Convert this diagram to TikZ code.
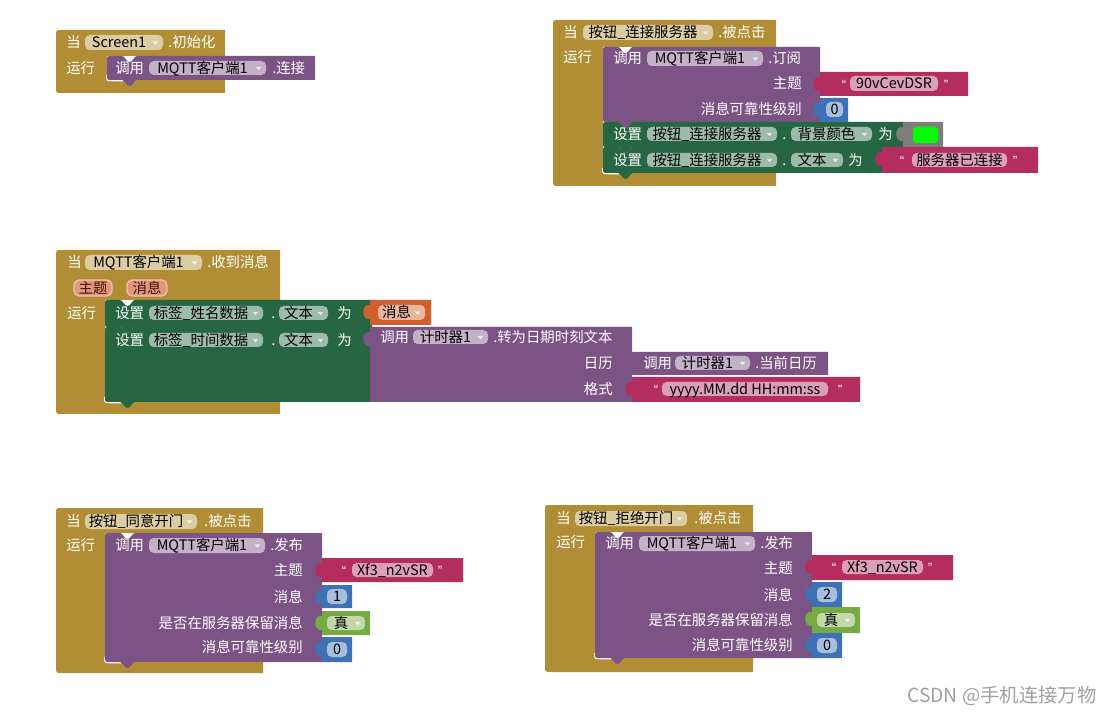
\documentclass[tikz,border=0pt]{standalone}
\usepackage{fontspec}
\newfontfamily\cjk{Noto Sans CJK SC}
\newfontfamily\lat{Liberation Sans}
\usetikzlibrary{calc}
\definecolor{gold}{HTML}{B18E35}
\definecolor{purp}{HTML}{7C5385}
\definecolor{sgreen}{HTML}{266643}
\definecolor{tmag}{HTML}{B32D5E}
\definecolor{mblue}{HTML}{3F71B5}
\definecolor{lgreen}{HTML}{77AB41}
\definecolor{vorange}{HTML}{D05F2D}
\definecolor{cgray}{HTML}{7D7D7D}
\definecolor{parf}{HTML}{E5957C}
\definecolor{parb}{HTML}{F3C2AE}
\definecolor{partxt}{HTML}{3A140A}
\definecolor{wmark}{HTML}{A0A0A0}
\definecolor{lime}{HTML}{00FF00}
\tikzset{
  wt/.style={text=white},
  ftxt/.style={text=black},
  fld/.style={fill=white, fill opacity=.55, rounded corners=3.5pt},
  qt/.style={text=white, font=\lat\fontsize{10}{11}\selectfont},
  pill/.style={fill=parf, draw=parb, line width=1pt, rounded corners=4pt},
}
\newcount\ndc
\newcommand\nxt{\global\advance\ndc by 1\relax}
\newcommand\wtxt[3]{\nxt\node[wt,anchor=west] (n\the\ndc) at (#1,#2) {#3};}
\newcommand\rtxt[3]{\nxt\node[wt,anchor=east] (n\the\ndc) at (#1,#2) {#3};}
\newcommand\qtxt[3]{\nxt\node[qt] (n\the\ndc) at (#1,#2) {#3};}
\newcommand\pfield[5]{\fill[fld] (#1,#2) rectangle (#3,#4);\nxt\node[ftxt] (n\the\ndc) at ({(#1+#3)/2},{(#2+#4)/2}) {#5};}
\newcommand\dfield[5]{\fill[fld] (#1,#2) rectangle (#3,#4);\nxt\node[ftxt] (n\the\ndc) at ({(#1+#3)/2-5},{(#2+#4)/2}) {#5};\fill[white,opacity=.7] ({#3-10.5},{(#2+#4)/2-1.2}) -- ++(6,0) -- ++(-3,3.4) -- cycle;}
\newcommand\ppill[5]{\draw[pill] (#1,#2) rectangle (#3,#4);\nxt\node[text=partxt] (n\the\ndc) at ({(#1+#3)/2},{(#2+#4)/2}) {#5};}
\newcommand\stmt[5]{\fill[#1] ({#2+5},#3) -- ({#2+15},#3) .. controls ({#2+18},#3) and ({#2+19},{#3+6}) .. ({#2+22.5},{#3+6}) .. controls ({#2+26},{#3+6}) and ({#2+27},#3) .. ({#2+30},#3) -- (#4,#3) -- (#4,#5) -- ({#2+30},#5) .. controls ({#2+27},#5) and ({#2+26},{#5+6}) .. ({#2+22.5},{#5+6}) .. controls ({#2+19},{#5+6}) and ({#2+18},#5) .. ({#2+15},#5) -- ({#2+5},#5) .. controls (#2,#5) .. (#2,{#5-5}) -- (#2,{#3+5}) .. controls (#2,#3) .. ({#2+5},#3) -- cycle;}
\newcommand\valblk[5]{\fill[#1] (#2,#3) -- (#4,#3) -- (#4,#5) -- (#2,#5) -- (#2,{#3+19}) .. controls ({#2-9},{#3+21}) and ({#2-9},{#3+3}) .. (#2,{#3+5}) -- cycle;}
\newcommand\evblk[7]{\fill[gold] ({#1+6},#2) -- (#3,#2) -- (#3,#4) -- (#5,#4) -- (#5,#6) -- (#3,#6) -- (#3,#7) -- ({#1+6},#7) .. controls (#1,#7) .. (#1,{#7-6}) -- (#1,{#2+6}) .. controls (#1,#2) .. ({#1+6},#2) -- cycle;
\draw[white, line width=1pt] ({#5-0.3},{#6-5}) .. controls ({#5-0.3},{#6+0.6}) .. ({#5+5},{#6+0.6}) -- ({#5+16},{#6+0.6});}
\begin{document}
\begin{tikzpicture}[x=0.75pt,y=-0.75pt,
  every node/.style={inner sep=0pt, font=\cjk\fontsize{10.8}{13}\selectfont, text height=9.3pt, text depth=1.3pt}]
\useasboundingbox (0,0) rectangle (1114,716);
\fill[white] (0,0) rectangle (1114,716);

% ---------- Block 1: Screen1 init ----------
\evblk{56}{30}{225}{56}{107}{80}{93}
\stmt{purp}{107}{56}{315}{80}
\wtxt{66}{42}{当}
\dfield{85}{35}{163}{50}{Screen1}
\wtxt{168}{42}{.初始化}
\wtxt{66}{68}{运行}
\wtxt{115}{68}{调用}
\dfield{149}{61}{266}{75}{MQTT客户端1}
\wtxt{272}{68}{.连接}

% ---------- Block 2: connect button click ----------
\evblk{553}{20}{776}{47}{603}{173}{186}
\stmt{purp}{603}{47}{820}{122}
\stmt{sgreen}{603}{122}{905}{147}
\stmt{sgreen}{603}{147}{884}{173}
\valblk{tmag}{820}{72}{968}{96}
\valblk{mblue}{820}{98}{848}{122}
\valblk{cgray}{903}{122}{943}{147}
\fill[lime, rounded corners=2.5pt] (913,127) rectangle (938,143);
\valblk{tmag}{882}{147}{1038}{173}
\wtxt{563}{32}{当}
\dfield{583}{25}{713}{40}{按钮\_连接服务器}
\wtxt{718}{32}{.被点击}
\wtxt{563}{57}{运行}
\wtxt{613}{58}{调用}
\dfield{647}{51}{763}{66}{MQTT客户端1}
\wtxt{768}{58}{.订阅}
\rtxt{802}{83}{主题}
\qtxt{844}{84}{“}
\pfield{850}{76}{938}{91}{90vCevDSR}
\qtxt{946}{84}{”}
\rtxt{802}{109}{消息可靠性级别}
\pfield{826}{102}{843}{117}{0}
\wtxt{613}{134}{设置}
\dfield{647}{127}{777}{141}{按钮\_连接服务器}
\wtxt{782}{134}{.}
\dfield{791}{127}{872}{141}{背景颜色}
\wtxt{878}{134}{为}
\wtxt{613}{160}{设置}
\dfield{647}{153}{777}{167}{按钮\_连接服务器}
\wtxt{782}{160}{.}
\dfield{791}{153}{843}{167}{文本}
\wtxt{848}{160}{为}
\qtxt{902}{160}{“}
\pfield{912}{153}{1007}{167}{服务器已连接}
\qtxt{1015}{160}{”}

% ---------- Block 3: message received ----------
\evblk{56}{250}{280}{300}{105}{402}{414}
\stmt{sgreen}{105}{300}{372}{327}
\stmt{sgreen}{105}{327}{372}{402}
\valblk{vorange}{370}{300}{431}{325}
\valblk{purp}{370}{327}{632}{402}
\valblk{purp}{632}{352}{828}{375}
\valblk{tmag}{632}{377}{860}{402}
\wtxt{67}{262}{当}
\dfield{85}{255}{202}{270}{MQTT客户端1}
\wtxt{207}{262}{.收到消息}
\ppill{74}{280}{112}{296}{主题}
\ppill{127}{280}{167}{296}{消息}
\wtxt{67}{313}{运行}
\wtxt{115}{313}{设置}
\dfield{149}{306}{263}{320}{标签\_姓名数据}
\wtxt{271}{313}{.}
\dfield{279}{306}{328}{320}{文本}
\wtxt{337}{313}{为}
\dfield{378}{305}{425}{320}{消息}
\wtxt{115}{340}{设置}
\dfield{149}{333}{263}{347}{标签\_时间数据}
\wtxt{271}{340}{.}
\dfield{279}{333}{328}{347}{文本}
\wtxt{337}{340}{为}
\wtxt{380}{337}{调用}
\dfield{413}{330}{488}{344}{计时器1}
\wtxt{493}{337}{.转为日期时刻文本}
\rtxt{613}{363}{日历}
\rtxt{613}{389}{格式}
\wtxt{643}{363}{调用}
\dfield{675}{356}{750}{370}{计时器1}
\wtxt{755}{363}{.当前日历}
\qtxt{656}{389}{“}
\pfield{662}{382}{828}{396}{yyyy.MM.dd HH:mm:ss}
\qtxt{840}{389}{”}

% ---------- Block 4: agree button ----------
\evblk{56}{508}{263}{533}{105}{662}{673}
\stmt{purp}{105}{533}{322}{662}
\valblk{tmag}{322}{558}{463}{582}
\valblk{mblue}{322}{585}{352}{608}
\valblk{lgreen}{322}{611}{370}{635}
\valblk{mblue}{322}{637}{352}{662}
\wtxt{66}{521}{当}
\dfield{85}{514}{197}{529}{按钮\_同意开门}
\wtxt{204}{521}{.被点击}
\wtxt{66}{545}{运行}
\wtxt{115}{545}{调用}
\dfield{149}{538}{265}{553}{MQTT客户端1}
\wtxt{270}{545}{.发布}
\rtxt{303}{570}{主题}
\rtxt{303}{597}{消息}
\rtxt{303}{623}{是否在服务器保留消息}
\rtxt{303}{647}{消息可靠性级别}
\qtxt{344}{570}{“}
\pfield{352}{563}{433}{577}{Xf3\_n2vSR}
\qtxt{440}{570}{”}
\pfield{327}{589}{347}{604}{1}
\dfield{327}{616}{365}{630}{真}
\pfield{327}{642}{347}{657}{0}

% ---------- Block 5: reject button ----------
\evblk{545}{505}{753}{532}{595}{658}{672}
\stmt{purp}{595}{532}{812}{658}
\valblk{tmag}{812}{555}{953}{580}
\valblk{mblue}{812}{582}{842}{607}
\valblk{lgreen}{812}{607}{860}{633}
\valblk{mblue}{812}{633}{842}{658}
\wtxt{556}{518}{当}
\dfield{575}{511}{687}{526}{按钮\_拒绝开门}
\wtxt{694}{518}{.被点击}
\wtxt{556}{542}{运行}
\wtxt{605}{543}{调用}
\dfield{639}{536}{755}{551}{MQTT客户端1}
\wtxt{760}{543}{.发布}
\rtxt{793}{568}{主题}
\rtxt{793}{595}{消息}
\rtxt{793}{620}{是否在服务器保留消息}
\rtxt{793}{645}{消息可靠性级别}
\qtxt{834}{567}{“}
\pfield{842}{560}{923}{574}{Xf3\_n2vSR}
\qtxt{930}{567}{”}
\pfield{817}{587}{837}{602}{2}
\dfield{817}{613}{855}{627}{真}
\pfield{817}{638}{837}{653}{0}

% ---------- watermark ----------
\node[anchor=west, text=wmark, font=\cjk\fontsize{14.5}{16}\selectfont] (wm) at (907,697) {CSDN @手机连接万物};
\end{tikzpicture}
\end{document}
